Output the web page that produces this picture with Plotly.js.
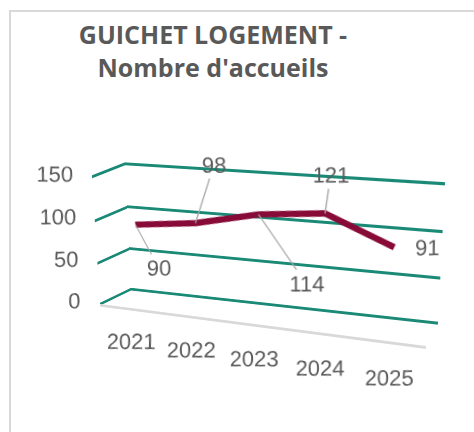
<!DOCTYPE html>
<html>
<head>
<meta charset="utf-8">
<script src="https://cdn.plot.ly/plotly-3.0.1.min.js"></script>
<style>
html,body{margin:0;padding:0;background:#fff;}
#wrap{position:relative;width:474px;height:432px;overflow:hidden;background:#fff;}
#wrap > div{position:absolute;left:0;top:0;transform-origin:0 0;}
</style>
</head>
<body>
<div id="wrap">
  <div id="base"></div>
  <div id="side"></div>
  <div id="back"></div>
  <div id="front"></div>
  <div id="ribbon"></div>
</div>
<script>
// ---------------- data ----------------
var years = ['2021', '2022', '2023', '2024', '2025'];
var accueils = [90, 98, 114, 121, 91];
var valueTicks = [0, 50, 100, 150];
var depthCats = ['front', 'back'];

// ---------------- style ----------------
var TEAL = '#1a8a77';
var GREY_TXT = '#595959';
var FONT = 'Liberation Sans, Arial, sans-serif';
var labelAx = [24, 21, 48, 5];
var labelAy = [45, -62, 68, -39];

// ---------------- projective helpers ----------------
function mul(A, B) {
  var C = [[0,0,0],[0,0,0],[0,0,0]];
  for (var i = 0; i < 3; i++) for (var j = 0; j < 3; j++)
    for (var k = 0; k < 3; k++) C[i][j] += A[i][k] * B[k][j];
  return C;
}
function squareToQuad(q) {
  var x0=q[0][0],y0=q[0][1],x1=q[1][0],y1=q[1][1],x2=q[2][0],y2=q[2][1],x3=q[3][0],y3=q[3][1];
  var dx1=x1-x2, dx2=x3-x2, dx3=x0-x1+x2-x3;
  var dy1=y1-y2, dy2=y3-y2, dy3=y0-y1+y2-y3;
  var den = dx1*dy2 - dx2*dy1;
  var g = (dx3*dy2 - dx2*dy3)/den;
  var h = (dx1*dy3 - dx3*dy1)/den;
  return [[x1-x0+g*x1, x3-x0+h*x3, x0],
          [y1-y0+g*y1, y3-y0+h*y3, y0],
          [g, h, 1]];
}
function rectToQuad(r, q) {
  var S = [[1/r.w, 0, -r.x/r.w], [0, 1/r.h, -r.y/r.h], [0, 0, 1]];
  return mul(squareToQuad(q), S);
}
function cssMatrix(H) {
  return 'matrix3d(' + [H[0][0], H[1][0], 0, H[2][0],
                        H[0][1], H[1][1], 0, H[2][1],
                        0, 0, 1, 0,
                        H[0][2], H[1][2], 0, H[2][2]].join(',') + ')';
}
function jac(H, px, py) {
  var X = H[0][0]*px + H[0][1]*py + H[0][2];
  var Y = H[1][0]*px + H[1][1]*py + H[1][2];
  var W = H[2][0]*px + H[2][1]*py + H[2][2];
  var W2 = W*W;
  return [[(H[0][0]*W - X*H[2][0])/W2, (H[0][1]*W - X*H[2][1])/W2],
          [(H[1][0]*W - Y*H[2][0])/W2, (H[1][1]*W - Y*H[2][1])/W2]];
}
function uprightTexts(div, H) {
  var texts = div.querySelectorAll('.xtick text, .ytick text, .annotation-text');
  Array.prototype.forEach.call(texts, function (t) {
    try {
      var bb = t.getBBox();
      var cx = bb.x + bb.width / 2, cy = bb.y + bb.height / 2;
      var m = t.getCTM();
      var px = m.a*cx + m.c*cy + m.e, py = m.b*cx + m.d*cy + m.f;
      var J = jac(H, px, py);
      var det = J[0][0]*J[1][1] - J[0][1]*J[1][0];
      var L11 = J[1][1]/det, L12 = -J[0][1]/det, L21 = -J[1][0]/det, L22 = J[0][0]/det;
      var e = cx - L11*cx - L12*cy, f = cy - L21*cx - L22*cy;
      var vals = [L11, L21, L12, L22, e, f];
      if (vals.every(isFinite)) {
        t.setAttribute('transform', (t.getAttribute('transform') || '') +
          ' matrix(' + vals.join(' ') + ')');
      }
    } catch (err) {}
  });
}
// sub-rectangle of a plot area covering values lo..hi of a vertical range
function valueRect(plot, range, lo, hi) {
  var span = range[1] - range[0];
  var yTop = plot.y + plot.h * (range[1] - hi) / span;
  var yBot = plot.y + plot.h * (range[1] - lo) / span;
  return {x: plot.x, y: yTop, w: plot.w, h: yBot - yTop};
}
function place(id, W, H, rect, quad) {
  var el = document.getElementById(id);
  el.style.width = W + 'px';
  el.style.height = H + 'px';
  var M = rectToQuad(rect, quad);
  el.style.transform = cssMatrix(M);
  return M;
}

// ---------------- box geometry (screen quads: TL, TR, BR, BL) ----------------
var backQuad  = [[125,164],[445,184],[438,323],[131,289]];
var sideQuad  = [[92,177],[125,164],[131,289],[100,304]];
var frontQuad = [[92,177],[430,204],[426,346],[100,304]];
var ribbonQuad = backQuad.map(function (p, i) {
  return [(p[0] + frontQuad[i][0]) / 2 - 5, (p[1] + frontQuad[i][1]) / 2];
});

var config = {staticPlot: true, displayModeBar: false};
var clear = 'rgba(0,0,0,0)';
var wallRange = [-3, 153];

// ---------------- base: title + frame ----------------
Plotly.newPlot('base', [], {
  width: 474, height: 432,
  margin: {l: 0, r: 0, t: 0, b: 0},
  paper_bgcolor: '#ffffff', plot_bgcolor: '#ffffff',
  xaxis: {visible: false}, yaxis: {visible: false},
  title: {
    text: "<b>GUICHET LOGEMENT -<br>Nombre d'accueils</b>",
    font: {family: 'Open Sans, sans-serif', size: 25, color: GREY_TXT},
    xref: 'paper', yref: 'paper',
    x: 213 / 474, xanchor: 'center', y: 1 - 44 / 432, yanchor: 'top'
  },
  shapes: [{
    type: 'rect', xref: 'paper', yref: 'paper',
    x0: 10 / 474, x1: 1.1, y0: -0.1, y1: 1 - 11 / 432,
    line: {color: '#d9d9d9', width: 2}
  }]
}, config);

// ---------------- back wall: value gridlines ----------------
var backPlot = {x: 25, y: 30, w: 330, h: 140};
var Hback = place('back', 380, 200, valueRect(backPlot, wallRange, 0, 150), backQuad);
Plotly.newPlot('back', [{
  type: 'scatter', mode: 'none', x: years, y: accueils, hoverinfo: 'skip', showlegend: false
}], {
  width: 380, height: 200,
  margin: {l: 25, r: 25, t: 30, b: 30},
  paper_bgcolor: clear, plot_bgcolor: clear,
  xaxis: {type: 'category', range: [-0.5, 4.5], showgrid: false, zeroline: false,
          showticklabels: false, ticks: '', showline: false},
  yaxis: {range: wallRange, tickvals: valueTicks, showgrid: true, gridcolor: TEAL, gridwidth: 2.6,
          zeroline: false, showticklabels: false, ticks: '', showline: false}
}, config);

// ---------------- side wall: value gridlines ----------------
var sidePlot = {x: 30, y: 30, w: 40, h: 140};
var Hside = place('side', 100, 200, valueRect(sidePlot, wallRange, 0, 150), sideQuad);
Plotly.newPlot('side', [{
  type: 'scatter', mode: 'none', x: depthCats, y: [0, 150], hoverinfo: 'skip', showlegend: false
}], {
  width: 100, height: 200,
  margin: {l: 30, r: 30, t: 30, b: 30},
  paper_bgcolor: clear, plot_bgcolor: clear,
  xaxis: {type: 'category', range: [-0.5, 1.5], showgrid: false, zeroline: false,
          showticklabels: false, ticks: '', showline: false},
  yaxis: {range: wallRange, tickvals: valueTicks, showgrid: true, gridcolor: TEAL, gridwidth: 2.6,
          zeroline: false, showticklabels: false, ticks: '', showline: false}
}, config);

// ---------------- front plane: axis line + tick labels ----------------
var frontRect = {x: 80, y: 40, w: 330, h: 140};
var Hfront = place('front', 460, 300, frontRect, frontQuad);
Plotly.newPlot('front', [{
  type: 'scatter', mode: 'none', x: years, y: accueils, hoverinfo: 'skip', showlegend: false
}], {
  width: 460, height: 300,
  margin: {l: 80, r: 50, t: 40, b: 120},
  paper_bgcolor: clear, plot_bgcolor: clear,
  xaxis: {type: 'category', range: [-0.5, 4.5], showgrid: false, zeroline: false,
          showline: true, linecolor: '#d9d9d9', linewidth: 2.5,
          ticks: 'outside', ticklen: 17, tickcolor: clear,
          tickfont: {family: FONT, size: 22, color: GREY_TXT}},
  yaxis: {range: [0, 150], tickvals: valueTicks, showgrid: false, zeroline: false, showline: false,
          ticks: 'outside', ticklen: 18, tickcolor: clear,
          tickfont: {family: FONT, size: 22, color: GREY_TXT}}
}, config).then(function () { uprightTexts(document.getElementById('front'), Hfront); });

// ---------------- ribbon plane: the series ----------------
var ribbonRect = {x: 60, y: 80, w: 330, h: 140};
var Hrib = place('ribbon', 460, 300, ribbonRect, ribbonQuad);
var ann = years.map(function (yr, i) {
  var a = {
    x: i, y: accueils[i], xref: 'x', yref: 'y',
    text: String(accueils[i]),
    font: {family: FONT, size: 22, color: GREY_TXT},
    showarrow: true, arrowhead: 0, arrowwidth: 1.3, arrowcolor: '#a6a6a6', standoff: 0,
    ax: labelAx[i], ay: labelAy[i]
  };
  if (i === years.length - 1) {
    a.showarrow = false;
    a.xshift = 30;
    a.yshift = 3;
  }
  return a;
});
Plotly.newPlot('ribbon', [{
  type: 'scatter', mode: 'lines', x: years, y: accueils,
  line: {color: '#870a37', width: 6.5}, hoverinfo: 'skip', showlegend: false, cliponaxis: false
}], {
  width: 460, height: 300,
  margin: {l: 60, r: 70, t: 80, b: 80},
  paper_bgcolor: clear, plot_bgcolor: clear,
  xaxis: {type: 'category', range: [-0.5, 4.5], showgrid: false, zeroline: false,
          showticklabels: false, ticks: '', showline: false},
  yaxis: {range: [0, 150], showgrid: false, zeroline: false,
          showticklabels: false, ticks: '', showline: false},
  annotations: ann
}, config).then(function () { uprightTexts(document.getElementById('ribbon'), Hrib); });
</script>
</body>
</html>
